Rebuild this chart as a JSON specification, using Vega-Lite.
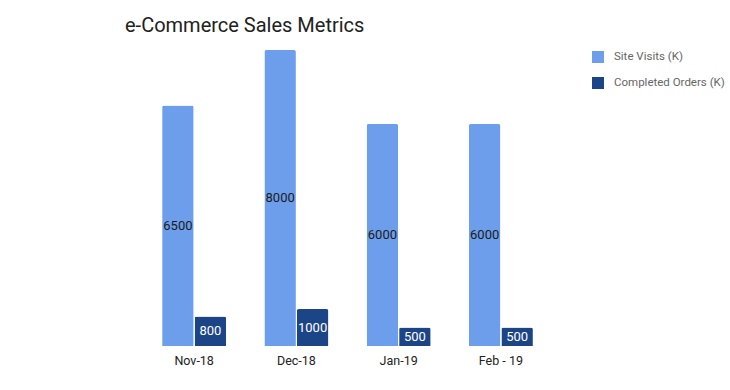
{
  "$schema": "https://vega.github.io/schema/vega-lite/v6.json",
  "autosize": "none",
  "width": 409,
  "height": 296,
  "padding": {"left": 143, "top": 50, "right": 178, "bottom": 44},
  "background": "#ffffff",
  "config": {"view": {"stroke": null}, "font": "Roboto"},
  "title": {
    "text": "e-Commerce Sales Metrics",
    "anchor": "start",
    "dx": -18,
    "offset": 14,
    "fontSize": 20,
    "fontWeight": "normal",
    "color": "#212121",
    "font": "Roboto"
  },
  "data": {
    "values": [
      {"month": "Nov-18", "series": "Site Visits (K)", "value": 6500},
      {"month": "Nov-18", "series": "Completed Orders (K)", "value": 800},
      {"month": "Dec-18", "series": "Site Visits (K)", "value": 8000},
      {"month": "Dec-18", "series": "Completed Orders (K)", "value": 1000},
      {"month": "Jan-19", "series": "Site Visits (K)", "value": 6000},
      {"month": "Jan-19", "series": "Completed Orders (K)", "value": 500},
      {"month": "Feb - 19", "series": "Site Visits (K)", "value": 6000},
      {"month": "Feb - 19", "series": "Completed Orders (K)", "value": 500}
    ]
  },
  "encoding": {
    "x": {
      "field": "month",
      "type": "nominal",
      "sort": ["Nov-18", "Dec-18", "Jan-19", "Feb - 19"],
      "scale": {"paddingInner": 0.374, "paddingOuter": 0.187},
      "axis": {
        "title": null,
        "labelAngle": 0,
        "domain": false,
        "ticks": false,
        "labelPadding": 8,
        "labelFontSize": 12.5,
        "labelColor": "#222222",
        "labelFont": "Roboto"
      }
    },
    "xOffset": {
      "field": "series",
      "type": "nominal",
      "sort": ["Site Visits (K)", "Completed Orders (K)"],
      "scale": {"paddingInner": 0.03}
    }
  },
  "layer": [
    {
      "mark": {"type": "bar", "cornerRadiusEnd": 2},
      "encoding": {
        "y": {
          "field": "value",
          "type": "quantitative",
          "scale": {"domain": [0, 8000]},
          "axis": null
        },
        "color": {
          "field": "series",
          "type": "nominal",
          "sort": ["Site Visits (K)", "Completed Orders (K)"],
          "scale": {"range": ["#6d9eeb", "#1c4587"]},
          "legend": {
            "title": null,
            "orient": "none",
            "legendX": 449,
            "legendY": 1,
            "symbolType": "square",
            "symbolSize": 144,
            "symbolStrokeWidth": 0,
            "rowPadding": 14,
            "labelOffset": 10,
            "labelFontSize": 11.5,
            "labelColor": "#666666",
            "labelFont": "Roboto"
          }
        }
      }
    },
    {
      "mark": {"type": "text", "fontSize": 13, "font": "Roboto", "baseline": "middle", "align": "center"},
      "encoding": {
        "y": {
          "field": "value",
          "type": "quantitative",
          "scale": {"domain": [0, 16000]},
          "axis": null
        },
        "text": {"field": "value", "type": "quantitative"},
        "color": {
          "field": "series",
          "type": "nominal",
          "sort": ["Site Visits (K)", "Completed Orders (K)"],
          "scale": {"range": ["#1a1a1a", "#ffffff"]},
          "legend": null
        }
      }
    }
  ],
  "resolve": {"scale": {"y": "independent", "color": "independent"}}
}
